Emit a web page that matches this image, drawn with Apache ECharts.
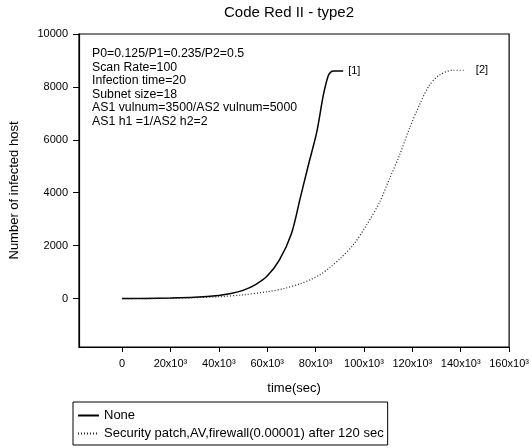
<!DOCTYPE html>
<html><head><meta charset="utf-8">
<script src="https://cdn.jsdelivr.net/npm/echarts@6/dist/echarts.min.js"></script>
<style>html,body{margin:0;padding:0;background:#fff}#c{width:532px;height:448px}</style>
</head><body><div id="c"></div>
<script>
const titleText = 'Code Red II - type2';
const xName = 'time(sec)';
const yName = 'Number of infected host';
const seriesNames = ['None', 'Security patch,AV,firewall(0.00001) after 120 sec'];
const endLabels = ['[1]', '[2]'];
const noneData = [[0,0],[10000,5],[20000,20],[30000,50],[40000,120],[45000,190],[50000,310],[55000,520],[60000,850],[65000,1450],[70000,2450],[73600,3780],[77000,5040],[80500,6300],[83200,7690],[85300,8440],[86500,8580],[87500,8600],[91400,8600]];
const patchData = [[0,0],[10000,5],[20000,15],[30000,35],[40000,70],[50000,140],[60000,260],[67000,380],[73600,560],[78000,720],[81800,900],[86000,1180],[90100,1510],[95500,2020],[101000,2770],[106500,3650],[110600,4540],[114700,5420],[118800,6430],[122900,7310],[127000,8060],[131100,8440],[136600,8630],[142100,8630]];
const xTicks = [0,20000,40000,60000,80000,100000,120000,140000,160000];
const yTicks = [0,2000,4000,6000,8000,10000];
const paramLines = ['P0=0.125/P1=0.235/P2=0.5','Scan Rate=100','Infection time=20','Subnet size=18','AS1 vulnum=3500/AS2 vulnum=5000','AS1 h1 =1/AS2 h2=2'];

const FF = '"Liberation Sans", Arial, sans-serif';
const chart = echarts.init(document.getElementById('c'), null, {renderer:'canvas'});
chart.setOption({
  animation: false,
  backgroundColor: '#fff',
  textStyle: {fontFamily: FF, color: '#000'},
  grid: {left: 77, right: 22, top: 34, bottom: 101, show: true, borderColor: '#000', borderWidth: 1.2, backgroundColor: 'transparent'},
  graphic: [
    {type:'text', x: 289, y: 5, style:{text: titleText, font: '15px ' + FF, fill:'#000', textAlign:'center', textVerticalAlign:'top'}},
    {type:'text', left: 92, top: 47, style:{text: paramLines.join('\n'), font: '12.3px ' + FF, fill:'#000', lineHeight: 13.5}}
  ],
  legend: {
    orient: 'vertical', left: 73, top: 402, padding: [7, 4, 5, 4],
    itemWidth: 21, itemHeight: 12, itemGap: 5,
    borderColor: '#000', borderWidth: 1, borderRadius: 0,
    itemStyle: {opacity: 0},
    textStyle: {fontSize: 13, fontFamily: FF, color: '#000'},
    data: seriesNames
  },
  xAxis: {
    type: 'value', min: -17800, max: 160000,
    name: xName, nameLocation: 'middle', nameGap: 35,
    nameTextStyle: {fontSize: 13, fontFamily: FF, color: '#000'},
    axisLine: {onZero: false, lineStyle: {color: '#000', width: 1.2}},
    axisTick: {show: true, length: 5, customValues: xTicks, lineStyle: {color: '#000'}},
    axisLabel: {customValues: xTicks, margin: 11, fontSize: 11, fontFamily: FF, color: '#000',
      formatter: v => v === 0 ? '0' : (v/1000) + 'x10³'},
    splitLine: {show: false}
  },
  yAxis: {
    type: 'value', min: -1830, max: 10000,
    name: yName, nameLocation: 'middle', nameGap: 58,
    nameTextStyle: {fontSize: 13, fontFamily: FF, color: '#000'},
    axisLine: {onZero: false, lineStyle: {color: '#000', width: 1.2}},
    axisTick: {show: true, length: 6, customValues: yTicks, lineStyle: {color: '#000'}},
    axisLabel: {customValues: yTicks, margin: 11, fontSize: 11, fontFamily: FF, color: '#000',
      formatter: v => String(v)},
    splitLine: {show: false}
  },
  series: [
    {name: seriesNames[0], type: 'line', data: noneData, symbol: 'none', smooth: 0.3,
      lineStyle: {color: '#000', width: 1.5, type: 'solid'}, itemStyle: {color: '#000'},
      endLabel: {show: true, formatter: endLabels[0], distance: 5, fontSize: 11, fontFamily: FF, color: '#000'}},
    {name: seriesNames[1], type: 'line', data: patchData, symbol: 'none', smooth: 0.3,
      lineStyle: {color: '#222', width: 1.2, type: [1, 2]}, itemStyle: {color: '#222'},
      endLabel: {show: true, formatter: endLabels[1], distance: 10, fontSize: 11, fontFamily: FF, color: '#000'}}
  ]
});
</script></body></html>
